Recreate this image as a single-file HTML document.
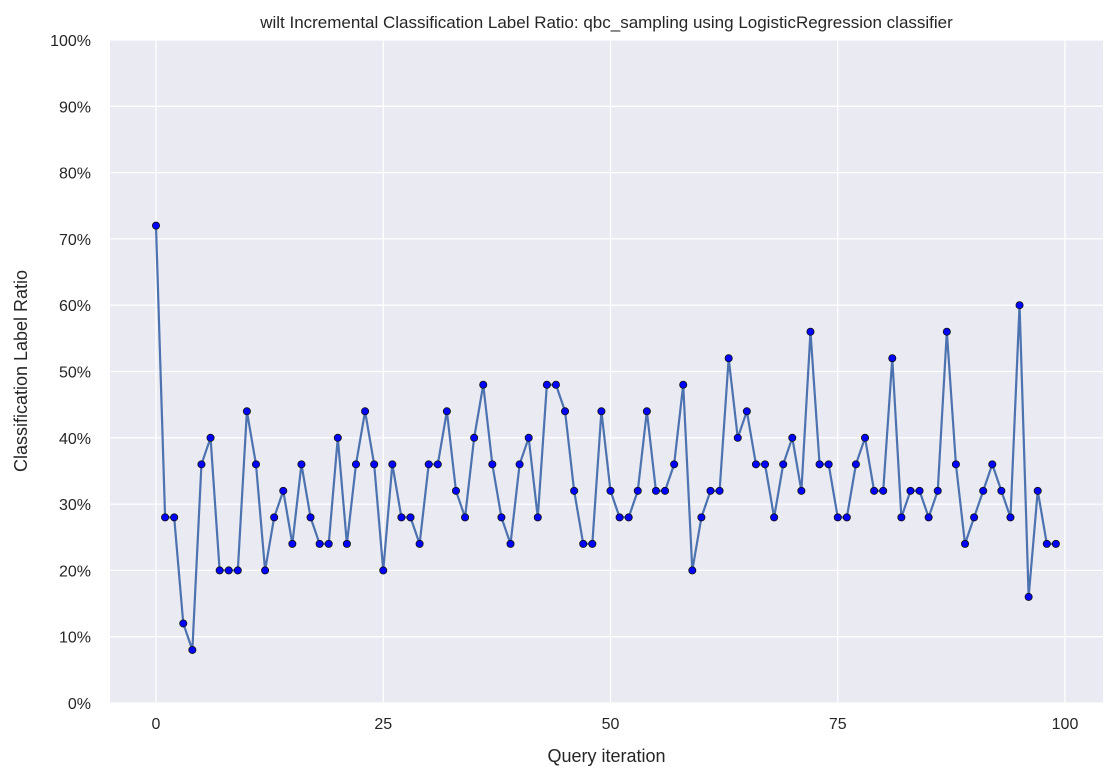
<!DOCTYPE html>
<html><head><meta charset="utf-8"><style>
body{margin:0;background:#fff;}
svg{display:block;font-family:"Liberation Sans","DejaVu Sans",sans-serif;}
</style></head><body>
<svg id="chart" width="1115" height="779"></svg>
<script>
const iterations = Array.from({length:100},(_,i)=>i);
const ratios = [72,28,28,12,8,36,40,20,20,20,44,36,20,28,32,24,36,28,24,24,40,24,36,44,36,20,36,28,28,24,36,36,44,32,28,40,48,36,28,24,36,40,28,48,48,44,32,24,24,44,32,28,28,32,44,32,32,36,48,20,28,32,32,52,40,44,36,36,28,36,40,32,56,36,36,28,28,36,40,32,32,52,28,32,32,28,32,56,36,24,28,32,36,32,28,60,16,32,24,24];
const xTicks = [0,25,50,75,100];
const yTicks = [0,10,20,30,40,50,60,70,80,90,100];

const NS="http://www.w3.org/2000/svg";
const svg=document.getElementById('chart');
const L=110,R=1103,T=40,B=703;
const xs=v=>156+(1065-156)*v/100;
const ys=v=>B-(B-T)*v/100;
function mk(tag,attrs,parent){const e=document.createElementNS(NS,tag);for(const k in attrs)e.setAttribute(k,attrs[k]);(parent||svg).appendChild(e);return e;}

const bg=mk('rect',{x:L,y:T,width:R-L,height:B-T,fill:'#eaeaf2'});



yTicks.forEach(t=>{
  const g=mk('line',{x1:L,x2:R,y1:ys(t),y2:ys(t),stroke:'#fff','stroke-width':1.3});
  
  
  const tx=mk('text',{x:L-19,y:ys(t)+6,'text-anchor':'end','font-size':16,fill:'#262626'});
  tx.textContent=t+'%';
  
  
});
xTicks.forEach(t=>{
  const g=mk('line',{x1:xs(t),x2:xs(t),y1:T,y2:B,stroke:'#fff','stroke-width':1.3});
  
  
  const tx=mk('text',{x:xs(t),y:B+26,'text-anchor':'middle','font-size':16,fill:'#262626'});
  tx.textContent=t;
  
  
});

const pts=iterations.map((x,i)=>xs(x)+','+ys(ratios[i])).join(' ');
const line=mk('polyline',{points:pts,fill:'none',stroke:'#4c72b0','stroke-width':2.2});


iterations.forEach((x,i)=>{
  const c=mk('circle',{cx:xs(x),cy:ys(ratios[i]),r:3.6,fill:'#0000ff',stroke:'#111','stroke-width':0.8});
  
  
});

const title=mk('text',{x:(L+R)/2,y:28,'text-anchor':'middle','font-size':17,fill:'#262626'});
title.textContent='wilt Incremental Classification Label Ratio: qbc_sampling using LogisticRegression classifier';


const xl=mk('text',{x:(L+R)/2,y:762,'text-anchor':'middle','font-size':18,fill:'#262626'});
xl.textContent='Query iteration';


const yl=mk('text',{x:0,y:0,'text-anchor':'middle','font-size':18,fill:'#262626',transform:'translate(27,371) rotate(-90)'});
yl.textContent='Classification Label Ratio';


</script>
</body></html>
